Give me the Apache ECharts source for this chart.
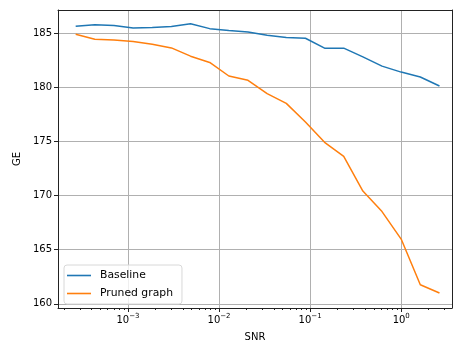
<!DOCTYPE html>
<html>
<head>
<meta charset="utf-8">
<script src="https://cdn.jsdelivr.net/npm/echarts@6/dist/echarts.min.js"></script>
<style>
  html, body { margin: 0; padding: 0; background: #fff; }
  #chart { width: 453px; height: 344px; }
</style>
</head>
<body>
<div id="chart"></div>
<script>
// SNR sample points (log spaced)
var snr = [2.667e-4, 4.326e-4, 7.02e-4, 1.139e-3, 1.848e-3, 2.999e-3, 4.866e-3, 7.897e-3,
           1.281e-2, 2.079e-2, 3.373e-2, 5.473e-2, 8.88e-2, 0.1441, 0.2338, 0.3793,
           0.6154, 0.9986, 1.620, 2.630];
var baseline = [185.61, 185.77, 185.68, 185.46, 185.5, 185.59, 185.86, 185.4,
                185.22, 185.09, 184.79, 184.58, 184.51, 183.6, 183.6, 182.8,
                181.94, 181.39, 180.94, 180.11];
var pruned = [184.88, 184.42, 184.36, 184.21, 183.96, 183.62, 182.86, 182.28,
              181.03, 180.63, 179.4, 178.5, 176.79, 174.91, 173.62, 170.41,
              168.52, 165.98, 161.76, 161.0];
var xMajor = [0.001, 0.01, 0.1, 1];
var xMinor = [2e-4, 3e-4, 4e-4, 5e-4, 6e-4, 7e-4, 8e-4, 9e-4,
              2e-3, 3e-3, 4e-3, 5e-3, 6e-3, 7e-3, 8e-3, 9e-3,
              2e-2, 3e-2, 4e-2, 5e-2, 6e-2, 7e-2, 8e-2, 9e-2,
              0.2, 0.3, 0.4, 0.5, 0.6, 0.7, 0.8, 0.9,
              2, 3];
var yTicks = [160, 165, 170, 175, 180, 185];

function pairs(xs, ys) {
    return xs.map(function (x, i) { return [x, ys[i]]; });
}

var font = 'DejaVu Sans';
var spine = '#222';
var gridCol = '#b0b0b0';
var xMin = 1.706e-4, xMax = 3.61;
var yMin = 159.62, yMax = 187.12;

var myChart = echarts.init(document.getElementById('chart'));
myChart.setOption({
    animation: false,
    textStyle: { fontFamily: font },
    color: ['#1f77b4', '#ff7f0e'],
    grid: { left: 58, top: 10, right: 1, bottom: 36, outerBoundsMode: 'none', containLabel: false },
    legend: {
        orient: 'vertical',
        left: 64, top: 265,
        itemWidth: 24, itemHeight: 8, itemGap: 7,
        padding: [5, 9, 5, 3],
        borderColor: '#d8d8d8', borderWidth: 1, borderRadius: 3,
        backgroundColor: 'rgba(255,255,255,0.8)',
        icon: 'path://M0,0 L24,0 L24,1.6 L0,1.6 Z',
        textStyle: { fontFamily: font, fontSize: 10.8, color: '#000', padding: [0, 0, 0, 4] },
        data: ['Baseline', 'Pruned graph']
    },
    xAxis: [
        {
            type: 'log', logBase: 10, min: xMin, max: xMax,
            position: 'bottom',
            name: 'SNR', nameLocation: 'middle', nameGap: 24,
            nameTextStyle: { fontFamily: font, fontSize: 10, color: '#000' },
            axisLine: { lineStyle: { color: spine, width: 1 } },
            axisTick: { customValues: xMajor, length: 4, lineStyle: { color: spine } },
            axisLabel: {
                customValues: xMajor, margin: 5, color: '#000',
                formatter: function (v) {
                    var e = Math.round(Math.log10(v));
                    return '{b|10}{e|' + (e < 0 ? '\u2212' + (-e) : e) + '}';
                },
                rich: {
                    b: { fontFamily: font, fontSize: 10, color: '#000' },
                    e: { fontFamily: font, fontSize: 7, color: '#000', padding: [0, 0, 7, 0] }
                }
            },
            splitLine: { show: true, lineStyle: { color: gridCol, width: 1 } }
        },
        {
            type: 'log', logBase: 10, min: xMin, max: xMax,
            position: 'bottom',
            axisLine: { show: false },
            axisTick: { customValues: xMinor, length: 2, lineStyle: { color: spine } },
            axisLabel: { show: false },
            splitLine: { show: false }
        },
        {
            type: 'value', min: 0, max: 1, position: 'top',
            axisLine: { lineStyle: { color: spine, width: 1 } },
            axisTick: { show: false }, axisLabel: { show: false }, splitLine: { show: false }
        }
    ],
    yAxis: [
        {
            type: 'value', min: yMin, max: yMax,
            name: 'GE', nameLocation: 'middle', nameGap: 35,
            nameTextStyle: { fontFamily: font, fontSize: 10, color: '#000' },
            axisLine: { show: true, lineStyle: { color: spine, width: 1 } },
            axisTick: { show: true, customValues: yTicks, length: 4, lineStyle: { color: spine } },
            axisLabel: { customValues: yTicks, margin: 6, color: '#000', fontSize: 10, fontFamily: font },
            splitLine: { show: true, lineStyle: { color: gridCol, width: 1 } }
        },
        {
            type: 'value', min: 0, max: 1, position: 'right',
            axisLine: { show: true, lineStyle: { color: spine, width: 1 } },
            axisTick: { show: false }, axisLabel: { show: false }, splitLine: { show: false }
        }
    ],
    series: [
        {
            name: 'Baseline', type: 'line', xAxisIndex: 0, yAxisIndex: 0,
            data: pairs(snr, baseline), showSymbol: false,
            lineStyle: { width: 1.5 }
        },
        {
            name: 'Pruned graph', type: 'line', xAxisIndex: 0, yAxisIndex: 0,
            data: pairs(snr, pruned), showSymbol: false,
            lineStyle: { width: 1.5 }
        }
    ]
});
</script>
</body>
</html>
